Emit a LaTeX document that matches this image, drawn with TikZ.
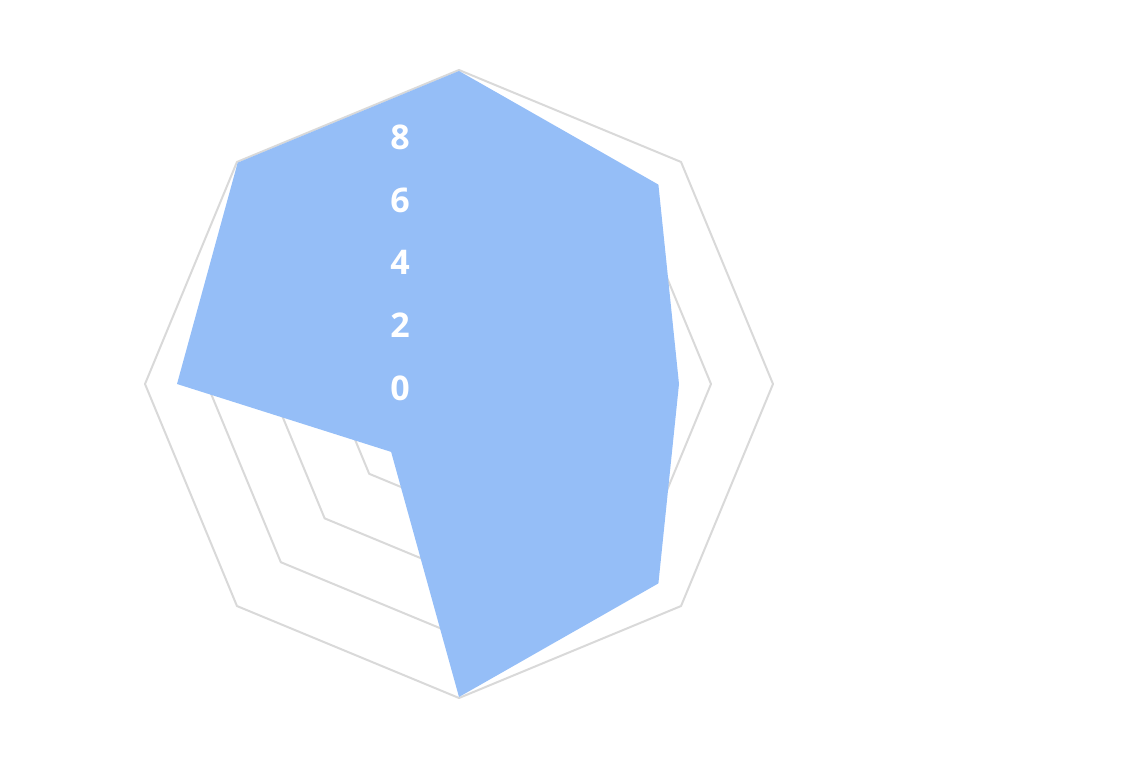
\documentclass[tikz,border=0pt]{standalone}
\usepackage{fontspec}
\setmainfont{Open Sans}
\definecolor{gridgray}{HTML}{D9D9D9}
\definecolor{seriesblue}{HTML}{95BEF7}
\begin{document}
\begin{tikzpicture}[x=1pt,y=-1pt,
		ring/.style={draw=gridgray,line width=2pt,line join=round},
		tick/.style={text=white,font=\fontsize{34}{34}\selectfont\bfseries}]
	\useasboundingbox (0,0) rectangle (1122,767);
	%grid rings
	\foreach \r in {65,127,190,252,314} {
		\draw[ring] (90:\r) ++(459,-384) ;
		\draw[ring,shift={(459,384)}] (-90:\r) -- (-45:\r) -- (0:\r) -- (45:\r) -- (90:\r) -- (135:\r) -- (180:\r) -- (225:\r) -- cycle;
	}
	%data
	\fill[seriesblue,shift={(459,384)}] (-90:313) -- (-45:282) -- (0:220) -- (45:282) -- (90:313) -- (135:96) -- (180:282) -- (225:313) -- cycle;
	%axis labels
	\foreach \v/\y in {8/137,6/200,4/262,2/325,0/388}
		\node[tick] (lab\v) at (400,\y) {\v};
\end{tikzpicture}
\end{document}
